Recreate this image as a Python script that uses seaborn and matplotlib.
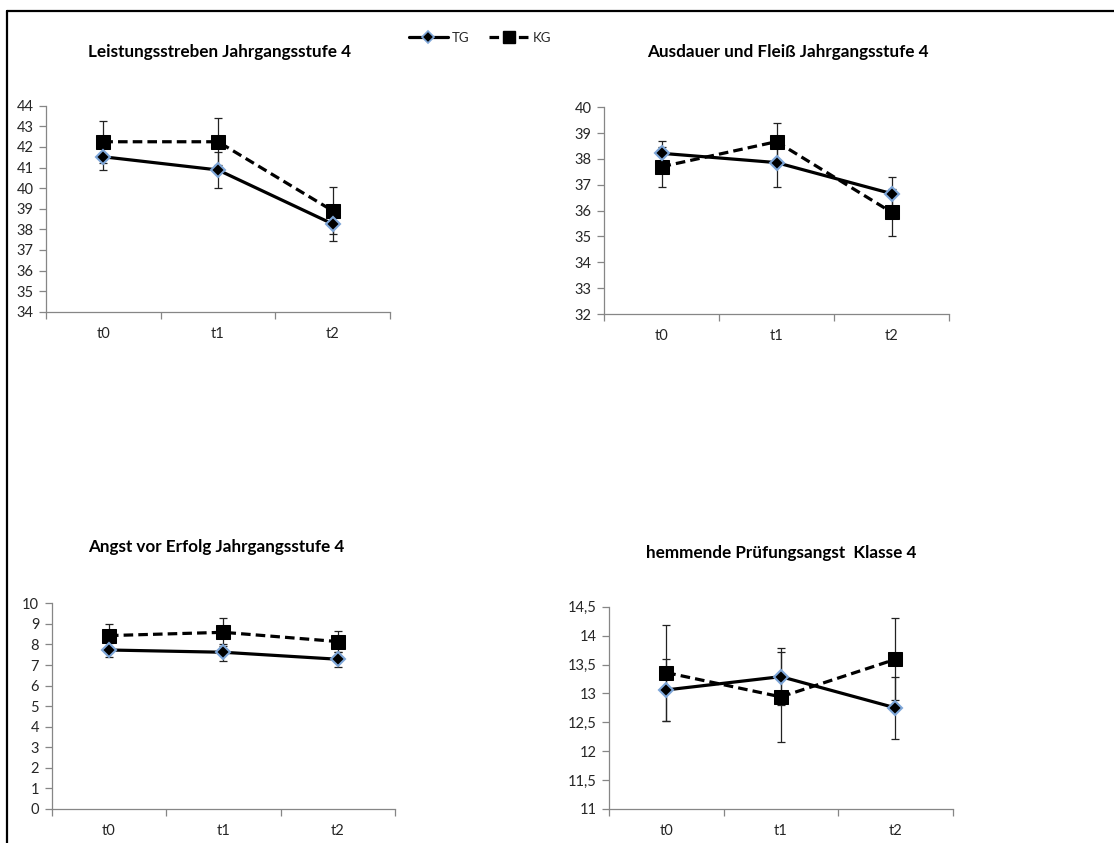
import numpy as np
import pandas as pd
import matplotlib
matplotlib.use("Agg")
import matplotlib.pyplot as plt
import seaborn as sns
from matplotlib.lines import Line2D

# ---------------- data ----------------
zeitpunkte = ["t0", "t1", "t2"]
gruppen = ["TG", "KG"]

titel = [
    "Leistungsstreben Jahrgangsstufe 4",
    "Ausdauer und Fleiß Jahrgangsstufe 4",
    "Angst vor Erfolg Jahrgangsstufe 4",
    "hemmende Prüfungsangst  Klasse 4",
]

leistung_tg = [41.52, 40.88, 38.26]
leistung_tg_err = [0.66, 0.89, 0.83]
leistung_kg = [42.25, 42.25, 38.90]
leistung_kg_err = [1.02, 1.14, 1.14]

ausdauer_tg = [38.22, 37.86, 36.66]
ausdauer_tg_err = [0.49, 0.96, 0.63]
ausdauer_kg = [37.70, 38.67, 35.94]
ausdauer_kg_err = [0.77, 0.72, 0.91]

angst_tg = [7.73, 7.62, 7.28]
angst_tg_err = [0.36, 0.42, 0.36]
angst_kg = [8.43, 8.59, 8.14]
angst_kg_err = [0.55, 0.68, 0.53]

pruef_tg = [13.06, 13.29, 12.75]
pruef_tg_err = [0.53, 0.49, 0.54]
pruef_kg = [13.36, 12.94, 13.59]
pruef_kg_err = [0.83, 0.78, 0.71]

y_ticks = [
    [34, 35, 36, 37, 38, 39, 40, 41, 42, 43, 44],
    [32, 33, 34, 35, 36, 37, 38, 39, 40],
    [0, 1, 2, 3, 4, 5, 6, 7, 8, 9, 10],
    [11, 11.5, 12, 12.5, 13, 13.5, 14, 14.5],
]
y_labels = [
    ["34", "35", "36", "37", "38", "39", "40", "41", "42", "43", "44"],
    ["32", "33", "34", "35", "36", "37", "38", "39", "40"],
    ["0", "1", "2", "3", "4", "5", "6", "7", "8", "9", "10"],
    ["11", "11,5", "12", "12,5", "13", "13,5", "14", "14,5"],
]

panels = [
    (leistung_tg, leistung_tg_err, leistung_kg, leistung_kg_err),
    (ausdauer_tg, ausdauer_tg_err, ausdauer_kg, ausdauer_kg_err),
    (angst_tg, angst_tg_err, angst_kg, angst_kg_err),
    (pruef_tg, pruef_tg_err, pruef_kg, pruef_kg_err),
]

# ---------------- layout (pixels) ----------------
W, H = 1114, 843
# left, right, top, bottom of each plot area
boxes = [
    (46, 390, 105.7, 311.7),
    (604, 949, 107.3, 314.0),
    (51.7, 395, 603.3, 809.0),
    (609, 952.7, 606.7, 809.0),
]
title_pos = [(220, 52), (788, 52), (216, 547), (781, 553)]

sns.set_theme(style="white")
plt.rcParams["font.family"] = ["Lato", "DejaVu Sans"]

fig = plt.figure(figsize=(W / 100, H / 100), dpi=100)
fig.patch.set_facecolor("white")

# frame lines (left and top) of the original picture
fig.add_artist(Line2D([7 / W, 7 / W], [0, 1 - 11 / H], color="black", lw=1.6,
                      transform=fig.transFigure))
fig.add_artist(Line2D([7 / W, 1], [1 - 11 / H, 1 - 11 / H], color="black", lw=1.6,
                      transform=fig.transFigure))

axis_col = "#868686"
text_col = "#262626"
blue_edge = "#7EA6D8"

for i, (tg, tg_err, kg, kg_err) in enumerate(panels):
    l, r, t, b = boxes[i]
    ax = fig.add_axes([l / W, 1 - b / H, (r - l) / W, (b - t) / H])
    x = np.arange(len(zeitpunkte))
    df = pd.DataFrame({
        "x": np.concatenate([x, x]),
        "wert": list(tg) + list(kg),
        "gruppe": ["TG"] * 3 + ["KG"] * 3,
    })
    # error bars behind
    ax.errorbar(x, kg, yerr=kg_err, fmt="none", ecolor="#222222", elinewidth=0.9,
                capsize=3, capthick=0.9, zorder=1)
    ax.errorbar(x, tg, yerr=tg_err, fmt="none", ecolor="#222222", elinewidth=0.9,
                capsize=3, capthick=0.9, zorder=1)
    sns.lineplot(data=df[df.gruppe == "TG"], x="x", y="wert", ax=ax, color="black",
                 lw=2.3, marker="D", markersize=7.5, markerfacecolor="black",
                 markeredgecolor=blue_edge, markeredgewidth=1.5, zorder=3,
                 legend=False)
    sns.lineplot(data=df[df.gruppe == "KG"], x="x", y="wert", ax=ax, color="black",
                 lw=2.3, marker="s", markersize=10, markerfacecolor="black",
                 markeredgecolor="black", zorder=2, legend=False)
    ax.lines[-1].set_dashes([3.0, 1.6])

    ax.set_xlim(-0.5, 2.5)
    ax.set_ylim(y_ticks[i][0], y_ticks[i][-1])
    ax.set_yticks(y_ticks[i])
    ax.set_yticklabels(y_labels[i])
    ax.set_xticks([-0.5, 0.5, 1.5, 2.5])
    ax.set_xticklabels([])
    ax.set_xticks(x, minor=True)
    ax.set_xticklabels(zeitpunkte, minor=True)
    ax.tick_params(axis="x", which="major", length=5, width=0.9, color=axis_col,
                   direction="out", bottom=True)
    ax.tick_params(axis="x", which="minor", length=0, pad=11, labelsize=10.5,
                   labelcolor=text_col)
    ax.tick_params(axis="y", length=5, width=0.9, color=axis_col, direction="out",
                   left=True, labelsize=10.5, labelcolor=text_col, pad=4)
    ax.set_xlabel("")
    ax.set_ylabel("")
    for s in ["top", "right"]:
        ax.spines[s].set_visible(False)
    for s in ["left", "bottom"]:
        ax.spines[s].set_color(axis_col)
        ax.spines[s].set_linewidth(0.9)
    ax.set_facecolor("white")
    ax.grid(False)

    tx, ty = title_pos[i]
    fig.text(tx / W, 1 - ty / H, titel[i], ha="center", va="center",
             fontsize=12.3, fontweight="bold", color="black")

# legend
handles = [
    Line2D([], [], color="black", lw=2.3, marker="D", markersize=6,
           markerfacecolor="black", markeredgecolor=blue_edge, markeredgewidth=1.2),
    Line2D([], [], color="black", lw=2.3, marker="s", markersize=9,
           markerfacecolor="black", dashes=[3.0, 1.6]),
]
fig.legend(handles, gruppen, loc="center", bbox_to_anchor=(480 / W, 1 - 38 / H),
           ncol=2, frameon=False, fontsize=9.5, handlelength=3.0, handletextpad=0.3,
           columnspacing=1.5, labelcolor=text_col)

fig.savefig("out.png", dpi=100, facecolor="white")
